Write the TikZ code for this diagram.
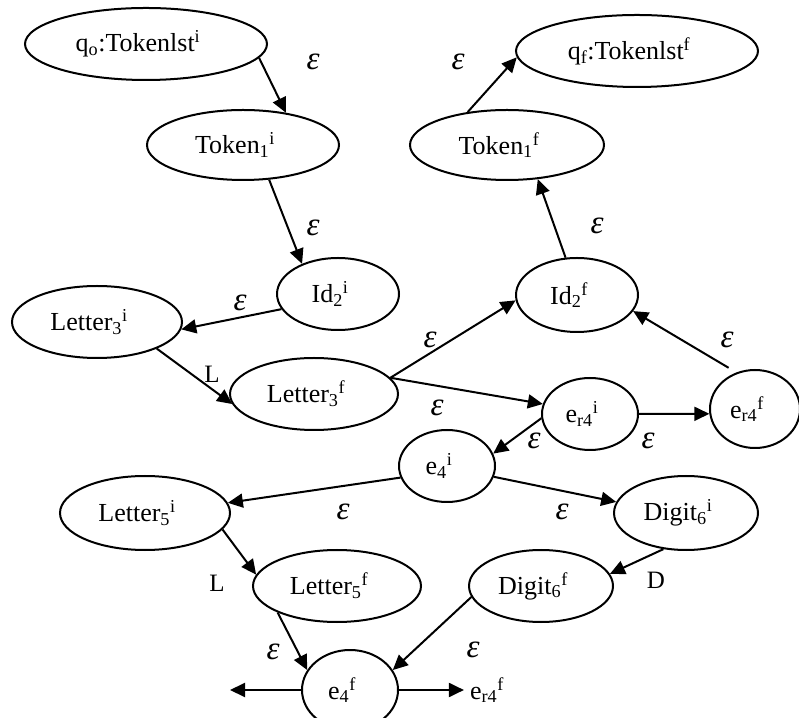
\documentclass[tikz,border=0pt]{standalone}
\usepackage{fontspec}
\setmainfont{Liberation Serif}
\usetikzlibrary{shapes.geometric,arrows.meta}
\newcommand{\lo}[1]{\textsubscript{#1}}
\newcommand{\hi}[1]{\textsuperscript{#1}}
\begin{document}
\begin{tikzpicture}[x=1pt,y=1pt,>={Triangle[length=15pt,width=14pt]},
  state/.style={draw, ellipse, line width=2pt, inner sep=0pt, font=\fontsize{26}{30}\selectfont,
    execute at end node=\hspace{16pt}},
  arc/.style={->, line width=2pt},
  eps/.style={font=\fontsize{33}{36}\selectfont\itshape},
  sym/.style={font=\fontsize{25}{30}\selectfont}]
\useasboundingbox (0,0) rectangle (799,717);
\node[state, minimum width=242, minimum height=72] (q0) at (146,673) {q\lo{o}:Tokenlst\hi{i}};
\node[state, minimum width=192, minimum height=70] (T1i) at (243,572) {Token\lo{1}\hi{i}};
\node[state, minimum width=122, minimum height=72] (Id2i) at (338,423) {Id\lo{2}\hi{i}};
\node[state, minimum width=170, minimum height=72] (L3i) at (97,395) {Letter\lo{3}\hi{i}};
\node[state, minimum width=168, minimum height=72] (L3f) at (314,323) {Letter\lo{3}\hi{f}};
\node[state, minimum width=122, minimum height=74] (Id2f) at (577,422) {Id\lo{2}\hi{f}};
\node[state, minimum width=194, minimum height=70] (T1f) at (507,572) {Token\lo{1}\hi{f}};
\node[state, minimum width=242, minimum height=72] (qf) at (637,666) {q\lo{f}:Tokenlst\hi{f}};
\node[state, minimum width=96, minimum height=72] (er4i) at (590,303) {e\lo{r4}\hi{i}};
\node[state, minimum width=90, minimum height=78] (er4f) at (755,308) {e\lo{r4}\hi{f}};
\node[state, minimum width=96, minimum height=72] (e4i) at (447,251) {e\lo{4}\hi{i}};
\node[state, minimum width=170, minimum height=74] (L5i) at (145,204) {Letter\lo{5}\hi{i}};
\node[state, minimum width=168, minimum height=72] (L5f) at (337,131) {Letter\lo{5}\hi{f}};
\node[state, minimum width=144, minimum height=74] (D6i) at (686,204) {Digit\lo{6}\hi{i}};
\node[state, minimum width=144, minimum height=72] (D6f) at (541,131) {Digit\lo{6}\hi{f}};
\node[state, minimum width=96, minimum height=80] (e4f) at (350,27) {e\lo{4}\hi{f}};
\coordinate (sink) at (230,27);
\node[font=\fontsize{26}{30}\selectfont, inner sep=6pt] (exit) at (487,27) {e\lo{r4}\hi{f}};
\draw[arc] (q0.-7) -- (T1i.37);
\draw[arc] (T1i.-53) -- (Id2i.140);
\draw[arc] (Id2i.-165) -- (L3i.-5);
\draw[arc] (L3i.-24) -- (L3f.187);
\draw[arc] (L3f.12) -- (Id2f.185);
\draw[arc] (L3f.12) -- (er4i.168);
\draw[arc] (Id2f.107) -- (T1f.-48);
\draw[arc] (T1f.140) -- (qf.183);
\draw[arc, shorten <=9pt] (er4f.117) -- (Id2f.-16);
\draw[arc] (er4i.0) -- (er4f.186);
\draw[arc] (er4i.185) -- (e4i.15);
\draw[arc] (e4i.194) -- (L5i.7);
\draw[arc] (e4i.-13) -- (D6i.171);
\draw[arc] (L5i.-12) -- (L5f.172);
\draw[arc] (D6i.238) -- (D6f.10);
\draw[arc] (L5f.204) -- (e4f.155);
\draw[arc] (D6f.189) -- (e4f.25);
\draw[arc] (e4f.west) -- (sink);
\draw[arc] (e4f.east) -- (exit.west);
\node[eps] (a1) at (313,655) {ε};
\node[eps] (a2) at (313,489) {ε};
\node[eps] (a3) at (240,414) {ε};
\node[sym] (a4) at (212,343) {L};
\node[eps] (a5) at (430,377) {ε};
\node[eps] (a6) at (437,309) {ε};
\node[eps] (a7) at (597,491) {ε};
\node[eps] (a8) at (458,655) {ε};
\node[eps] (a9) at (727,377) {ε};
\node[eps] (a10) at (648,276) {ε};
\node[eps] (a11) at (534,276) {ε};
\node[eps] (a12) at (343,205) {ε};
\node[eps] (a13) at (562,205) {ε};
\node[sym] (a14) at (217,134) {L};
\node[sym] (a15) at (656,137) {D};
\node[eps] (a16) at (273,65) {ε};
\node[eps] (a17) at (473,67) {ε};
\end{tikzpicture}
\end{document}
